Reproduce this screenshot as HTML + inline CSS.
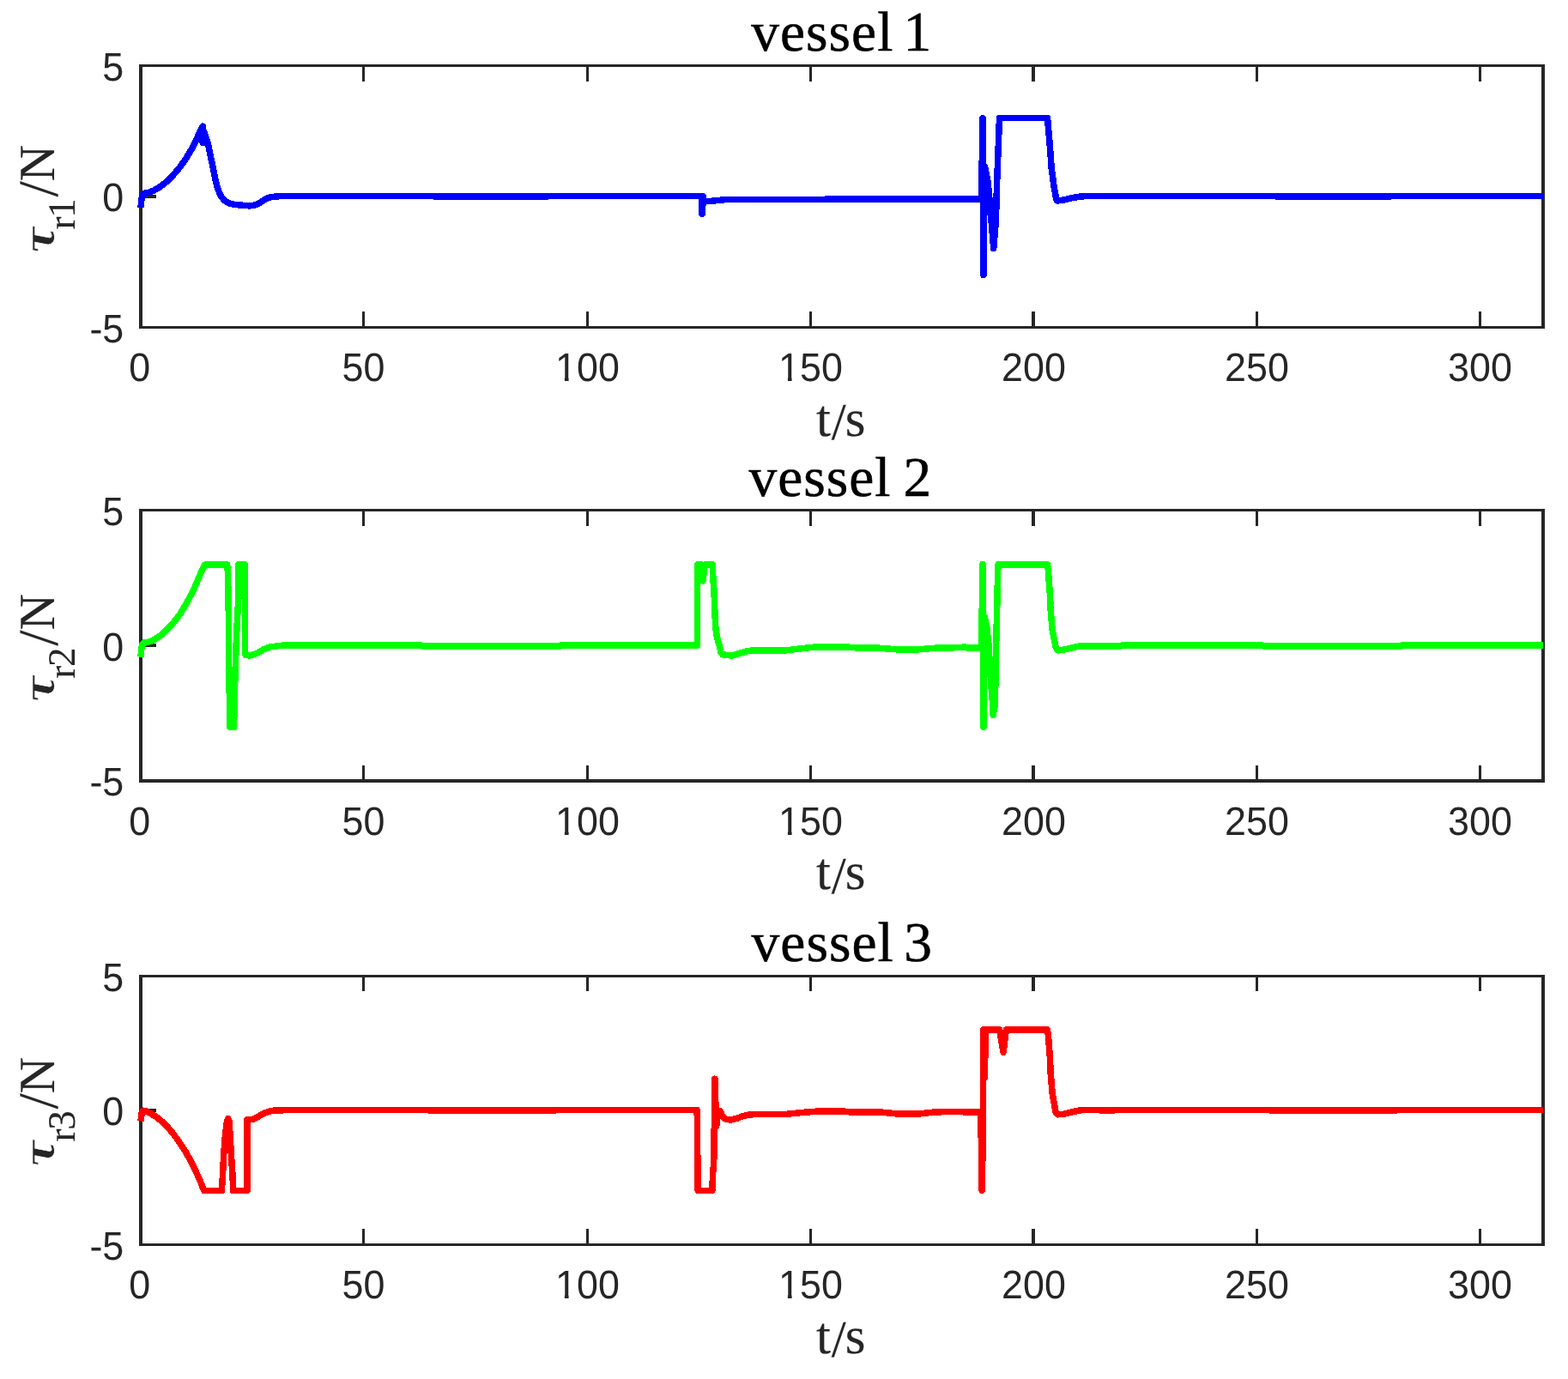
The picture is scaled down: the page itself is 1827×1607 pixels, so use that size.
<!DOCTYPE html>
<html lang="en"><head><meta charset="utf-8"><title>vessel 1, vessel 2, vessel 3</title>
<style>html,body{margin:0;padding:0;background:#fff;}body{width:1827px;height:1607px;overflow:hidden;}svg{display:block;}text{text-rendering:geometricPrecision;}.tk{font-family:"Liberation Sans",sans-serif;font-size:46.5px;fill:#262626;letter-spacing:0px;}.tt{font-family:"Liberation Serif",serif;font-size:65.5px;fill:#000;stroke:#000;stroke-width:0.5;}.lb{font-family:"Liberation Serif",serif;font-size:61px;fill:#262626;stroke:#262626;stroke-width:0.15;}.ax{fill:#262626;shape-rendering:crispEdges;}.cv{fill:none;stroke-width:7.5;stroke-linejoin:round;stroke-linecap:butt;shape-rendering:crispEdges;}</style></head><body>
<svg width="1827" height="1607" viewBox="0 0 1827 1607">
<rect width="1827" height="1607" fill="#fff"/>
<g>
<path class="ax" d="M162,75H1800V78H162ZM162,380H1800V383H162ZM162,75H166V383H162ZM1796,75H1800V383H1796ZM422,78H425V95H422ZM422,363H425V380H422ZM683,78H686V95H683ZM683,363H686V380H683ZM943,78H946V95H943ZM943,363H946V380H943ZM1202,78H1206V95H1202ZM1202,363H1206V380H1202ZM1463,78H1466V95H1463ZM1463,363H1466V380H1463ZM1723,78H1726V95H1723ZM1723,363H1726V380H1723ZM166,227H182V231H166ZM1780,227H1796V231H1780Z"/>
<path class="cv" stroke="#0000ff" d="M164.0,242.0 L164.9,232.0 L166.2,226.7 L168.6,225.1 L171.9,224.8 L178.5,222.4 L186.1,218.0 L193.8,212.0 L201.5,204.3 L209.1,195.5 L216.8,184.6 L223.3,173.6 L228.8,162.7 L233.2,152.8 L236.2,147.1 L236.2,166.5 L237.6,152.8 L242.0,166.0 L245.2,181.3 L248.5,196.6 L251.3,210.9 L254.0,220.7 L257.3,228.4 L261.7,233.8 L267.1,236.9 L273.7,238.4 L281.4,239.1 L291.2,239.9 L297.8,238.8 L303.3,236.0 L308.7,232.2 L314.2,230.0 L320.8,229.0 L330.0,228.5 L504.5,228.5 L505.5,228.8 L638.5,228.8 L639.5,228.5 L817.7,228.5 L817.7,249.0 L818.4,249.0 L819.2,228.8 L820.3,234.0 L827.0,234.6 L830.0,234.1 L836.0,233.6 L846.0,232.5 L960.0,232.5 L962.0,232.0 L1144.0,232.0 L1144.0,188.0 L1145.0,186.0 L1145.0,137.6 L1146.0,320.5 L1147.4,193.8 L1148.5,198.8 L1150.7,210.2 L1152.1,221.7 L1157.7,289.4 L1160.4,257.0 L1161.5,216.0 L1163.6,161.0 L1164.5,137.5 L1220.5,137.5 L1223.1,167.3 L1225.2,195.9 L1228.1,217.4 L1231.0,233.1 L1232.0,234.0 L1238.8,233.1 L1247.4,231.0 L1260.3,228.8 L1274.6,228.5 L1486.0,228.5 L1487.0,228.8 L1620.0,228.8 L1621.0,228.5 L1798.0,228.5"/>
<text class="tk" transform="translate(162.8,444.3) scale(0.965,1)" text-anchor="middle">0</text>
<text class="tk" transform="translate(423.5,444.3) scale(0.965,1)" text-anchor="middle">50</text>
<text class="tk" transform="translate(684.5,444.3) scale(0.965,1)" text-anchor="middle">100</text>
<text class="tk" transform="translate(944.5,444.3) scale(0.965,1)" text-anchor="middle">150</text>
<text class="tk" transform="translate(1204.5,444.3) scale(0.965,1)" text-anchor="middle">200</text>
<text class="tk" transform="translate(1464.5,444.3) scale(0.965,1)" text-anchor="middle">250</text>
<text class="tk" transform="translate(1724.5,444.3) scale(0.965,1)" text-anchor="middle">300</text>
<path fill="#fff" d="M649,439.3H657.9V444.9H649ZM662.6,439.3H671V444.9H662.6ZM909,439.3H917.9V444.9H909ZM922.6,439.3H931V444.9H922.6Z"/>
<text class="tk" transform="translate(144.3,93.8) scale(0.965,1)" text-anchor="end">5</text>
<text class="tk" transform="translate(144.3,246.3) scale(0.965,1)" text-anchor="end">0</text>
<text class="tk" transform="translate(144.3,398.8) scale(0.965,1)" text-anchor="end">-5</text>
<text class="tt" x="875.3" y="59.3" style="letter-spacing:1.0px;word-spacing:-6.3px">vessel 1</text>
<text class="lb" x="950.9 968.8 984.8" y="507.8 512.3 507.8">t/s</text>
<text class="lb" transform="translate(62.0,231.0) rotate(-90)"><tspan x="-64.8" y="1.2" style="font-size:48.3px;font-family:'DejaVu Serif',serif;font-weight:bold;font-style:italic;stroke:#fff;stroke-width:0.7px">τ</tspan><tspan x="-36.6 -22.8" y="24.5" style="font-size:45px">r1</tspan><tspan x="1.4" y="5.0" style="font-size:66px">/</tspan><tspan x="19.6" y="0.5" style="font-size:59px">N</tspan></text>
</g>
<g>
<path class="ax" d="M162,593H1800V596H162ZM162,908H1800V912H162ZM162,593H166V912H162ZM1796,593H1800V912H1796ZM422,596H425V613H422ZM422,892H425V908H422ZM683,596H686V613H683ZM683,892H686V908H683ZM943,596H946V613H943ZM943,892H946V908H943ZM1202,596H1206V613H1202ZM1202,892H1206V908H1202ZM1463,596H1466V613H1463ZM1463,892H1466V908H1463ZM1723,596H1726V613H1723ZM1723,892H1726V908H1723ZM166,750H182V754H166ZM1780,750H1796V754H1780Z"/>
<path class="cv" stroke="#00ff00" d="M164.0,765.7 L164.8,756.0 L165.8,751.0 L168.0,748.8 L171.8,748.4 L176.8,746.9 L182.7,743.5 L188.6,739.3 L194.5,733.7 L200.4,727.4 L205.4,721.5 L210.5,714.4 L215.5,706.0 L220.5,697.1 L225.6,687.1 L230.6,675.7 L234.8,665.9 L238.8,658.0 L264.6,658.0 L265.5,667.3 L266.4,719.6 L266.8,783.8 L268.0,847.3 L272.5,847.3 L274.0,783.8 L275.8,735.0 L277.0,712.0 L277.8,697.0 L278.0,658.0 L285.3,658.0 L285.6,761.4 L286.2,763.7 L291.9,763.8 L299.4,761.4 L306.8,757.0 L314.3,754.0 L321.8,753.0 L331.0,752.0 L491.0,752.0 L492.0,753.0 L652.5,753.0 L653.5,752.0 L812.5,752.0 L812.5,658.0 L817.0,658.0 L818.9,676.9 L821.2,658.0 L830.4,658.0 L830.9,676.0 L832.0,688.0 L832.8,711.0 L833.6,728.5 L834.7,738.4 L836.4,746.6 L838.6,753.7 L840.0,760.3 L841.9,762.7 L845.7,763.3 L852.2,764.0 L856.6,762.9 L863.2,760.8 L869.8,759.0 L875.2,758.1 L915.7,757.9 L935.0,755.6 L952.0,753.8 L983.0,753.8 L1000.0,755.0 L1024.0,755.2 L1045.0,756.8 L1070.0,756.8 L1090.0,755.2 L1120.0,754.6 L1124.0,753.8 L1127.0,755.0 L1144.0,755.0 L1144.0,710.0 L1145.0,708.0 L1145.0,657.4 L1146.0,847.3 L1147.3,719.3 L1149.9,731.5 L1151.8,749.5 L1154.1,786.8 L1156.3,816.7 L1157.1,833.4 L1158.8,824.2 L1160.0,794.3 L1160.6,754.0 L1161.8,704.7 L1162.6,665.8 L1163.2,657.8 L1220.5,657.8 L1221.3,664.4 L1223.2,689.7 L1224.3,712.2 L1226.2,734.6 L1228.4,745.0 L1230.2,754.7 L1232.5,757.9 L1239.9,757.0 L1247.4,755.2 L1253.4,753.7 L1259.4,752.8 L1305.5,753.0 L1307.0,752.0 L1471.0,752.0 L1472.0,753.0 L1632.5,753.0 L1633.5,752.0 L1798.0,752.0"/>
<text class="tk" transform="translate(162.8,972.8) scale(0.965,1)" text-anchor="middle">0</text>
<text class="tk" transform="translate(423.5,972.8) scale(0.965,1)" text-anchor="middle">50</text>
<text class="tk" transform="translate(684.5,972.8) scale(0.965,1)" text-anchor="middle">100</text>
<text class="tk" transform="translate(944.5,972.8) scale(0.965,1)" text-anchor="middle">150</text>
<text class="tk" transform="translate(1204.5,972.8) scale(0.965,1)" text-anchor="middle">200</text>
<text class="tk" transform="translate(1464.5,972.8) scale(0.965,1)" text-anchor="middle">250</text>
<text class="tk" transform="translate(1724.5,972.8) scale(0.965,1)" text-anchor="middle">300</text>
<path fill="#fff" d="M649,967.8H657.9V973.4H649ZM662.6,967.8H671V973.4H662.6ZM909,967.8H917.9V973.4H909ZM922.6,967.8H931V973.4H922.6Z"/>
<text class="tk" transform="translate(144.3,611.8) scale(0.965,1)" text-anchor="end">5</text>
<text class="tk" transform="translate(144.3,769.5) scale(0.965,1)" text-anchor="end">0</text>
<text class="tk" transform="translate(144.3,927.3) scale(0.965,1)" text-anchor="end">-5</text>
<text class="tt" x="872.4" y="578.3" style="letter-spacing:1.0px;word-spacing:-3.3px">vessel 2</text>
<text class="lb" x="950.9 968.8 984.8" y="1036.3 1040.8 1036.3">t/s</text>
<text class="lb" transform="translate(62.0,754.2) rotate(-90)"><tspan x="-64.8" y="1.2" style="font-size:48.3px;font-family:'DejaVu Serif',serif;font-weight:bold;font-style:italic;stroke:#fff;stroke-width:0.7px">τ</tspan><tspan x="-36.6 -22.8" y="24.5" style="font-size:45px">r2</tspan><tspan x="1.4" y="5.0" style="font-size:66px">/</tspan><tspan x="19.6" y="0.5" style="font-size:59px">N</tspan></text>
</g>
<g>
<path class="ax" d="M162,1136H1800V1139H162ZM162,1449H1800V1452H162ZM162,1136H166V1452H162ZM1796,1136H1800V1452H1796ZM422,1139H425V1155H422ZM422,1432H425V1449H422ZM683,1139H686V1155H683ZM683,1432H686V1449H683ZM943,1139H946V1155H943ZM943,1432H946V1449H943ZM1202,1139H1206V1155H1202ZM1202,1432H1206V1449H1202ZM1463,1139H1466V1155H1463ZM1463,1432H1466V1449H1463ZM1723,1139H1726V1155H1723ZM1723,1432H1726V1449H1723ZM166,1292H182V1296H166ZM1780,1292H1796V1296H1780Z"/>
<path class="cv" stroke="#ff0000" d="M164.0,1306.5 L165.2,1297.0 L166.4,1294.2 L169.7,1294.8 L175.2,1297.2 L182.8,1302.1 L191.6,1309.3 L199.3,1318.0 L206.9,1327.9 L214.6,1339.4 L221.2,1350.9 L227.7,1364.0 L233.2,1376.0 L237.6,1387.4 L258.4,1387.4 L259.5,1369.5 L260.6,1347.6 L262.2,1325.7 L264.4,1307.1 L265.8,1303.6 L267.1,1307.1 L268.2,1325.7 L269.5,1347.6 L271.0,1369.5 L271.7,1387.4 L288.0,1387.4 L288.0,1304.9 L294.5,1304.6 L300.0,1301.8 L305.3,1298.4 L311.4,1296.0 L314.4,1295.0 L320.0,1293.9 L329.5,1293.8 L330.5,1293.5 L499.0,1293.5 L500.0,1293.8 L647.0,1293.8 L648.0,1293.5 L812.2,1293.5 L813.2,1387.4 L829.8,1387.4 L830.6,1367.7 L831.5,1357.7 L832.1,1342.0 L832.4,1293.8 L833.0,1257.2 L834.6,1313.0 L837.0,1294.3 L839.0,1294.5 L841.0,1299.0 L843.5,1303.0 L847.0,1304.6 L851.7,1304.9 L858.4,1303.3 L865.1,1300.8 L871.8,1299.2 L878.5,1298.6 L914.4,1298.6 L925.6,1297.4 L936.8,1296.3 L948.0,1295.4 L959.2,1294.8 L980.0,1294.8 L990.0,1295.8 L1024.0,1295.8 L1045.0,1297.9 L1072.0,1297.9 L1090.0,1295.8 L1120.0,1295.6 L1127.0,1296.1 L1142.8,1296.0 L1144.2,1387.3 L1145.0,1340.0 L1145.5,1296.0 L1145.5,1200.0 L1147.2,1200.0 L1147.4,1256.0 L1148.3,1200.0 L1164.7,1200.0 L1169.1,1226.3 L1172.4,1200.0 L1220.5,1200.0 L1221.3,1205.8 L1223.2,1229.7 L1224.3,1252.2 L1226.2,1274.6 L1228.4,1286.5 L1230.2,1296.2 L1232.5,1298.8 L1239.9,1298.2 L1247.4,1296.2 L1253.4,1294.9 L1259.4,1293.7 L1298.0,1293.8 L1299.0,1293.5 L1479.0,1293.5 L1480.0,1293.8 L1627.0,1293.8 L1628.0,1293.5 L1798.0,1293.5"/>
<text class="tk" transform="translate(162.8,1513.3) scale(0.965,1)" text-anchor="middle">0</text>
<text class="tk" transform="translate(423.5,1513.3) scale(0.965,1)" text-anchor="middle">50</text>
<text class="tk" transform="translate(684.5,1513.3) scale(0.965,1)" text-anchor="middle">100</text>
<text class="tk" transform="translate(944.5,1513.3) scale(0.965,1)" text-anchor="middle">150</text>
<text class="tk" transform="translate(1204.5,1513.3) scale(0.965,1)" text-anchor="middle">200</text>
<text class="tk" transform="translate(1464.5,1513.3) scale(0.965,1)" text-anchor="middle">250</text>
<text class="tk" transform="translate(1724.5,1513.3) scale(0.965,1)" text-anchor="middle">300</text>
<path fill="#fff" d="M649,1508.3H657.9V1513.9H649ZM662.6,1508.3H671V1513.9H662.6ZM909,1508.3H917.9V1513.9H909ZM922.6,1508.3H931V1513.9H922.6Z"/>
<text class="tk" transform="translate(144.3,1154.8) scale(0.965,1)" text-anchor="end">5</text>
<text class="tk" transform="translate(144.3,1311.3) scale(0.965,1)" text-anchor="end">0</text>
<text class="tk" transform="translate(144.3,1467.8) scale(0.965,1)" text-anchor="end">-5</text>
<text class="tt" x="875.6" y="1119.6" style="letter-spacing:1.0px;word-spacing:-5.9px">vessel 3</text>
<text class="lb" x="950.9 968.8 984.8" y="1576.8 1581.3 1576.8">t/s</text>
<text class="lb" transform="translate(62.0,1296.0) rotate(-90)"><tspan x="-64.3" y="1.2" style="font-size:48.3px;font-family:'DejaVu Serif',serif;font-weight:bold;font-style:italic;stroke:#fff;stroke-width:0.7px">τ</tspan><tspan x="-34.6 -20.8" y="24.5" style="font-size:45px">r3</tspan><tspan x="3.4" y="5.0" style="font-size:66px">/</tspan><tspan x="21.6" y="0.5" style="font-size:59px">N</tspan></text>
</g>
</svg></body></html>
